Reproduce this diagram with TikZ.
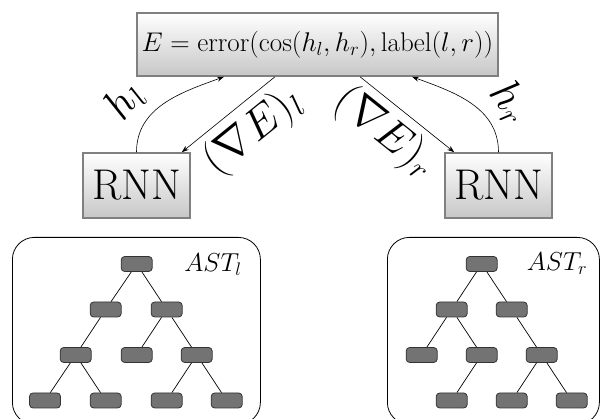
\documentclass[tikz,border=0pt]{standalone}
\usepackage{fix-cm}
\usepackage{fontspec}
\usetikzlibrary{arrows.meta}
\begin{document}
\begin{tikzpicture}[x=1pt,y=1pt,
  gbox/.style={draw=black!50, line width=1.5pt, top color=white, bottom color=black!22, inner sep=0pt},
  tn/.style={draw=black!80, fill=black!55, rounded corners=3.5pt, minimum width=31pt, minimum height=15pt, inner sep=0pt, line width=0.8pt},
  astbox/.style={draw, rounded corners=22pt, line width=0.8pt},
  conn/.style={-{Stealth[length=7pt,width=5pt]}, line width=0.6pt},
  tedge/.style={line width=0.7pt},
  lbl/.style={font=\fontsize{44}{50}\selectfont, inner sep=1pt}
]
\useasboundingbox (0,0) rectangle (600,-419);
\clip (0,0) rectangle (600,-419);
% top box and RNNs
\node[gbox, minimum width=361pt, minimum height=63pt] (E) at (317.5,-44.5)
  {\fontsize{27}{32}\selectfont $E=\mathrm{error}(\cos(h_l,h_r),\mathrm{label}(l,r))$};
\node[gbox, minimum width=107pt, minimum height=65pt] (rl) at (136.5,-185.5) {\fontsize{43}{50}\selectfont RNN};
\node[gbox, minimum width=107pt, minimum height=65pt] (rr) at (498.5,-185.5) {\fontsize{43}{50}\selectfont RNN};
\coordinate (e1) at ([xshift=-93.5pt]E.south);
\coordinate (e2) at ([xshift=-42.5pt]E.south);
\coordinate (e3) at ([xshift=42.5pt]E.south);
\coordinate (e4) at ([xshift=94.5pt]E.south);
\coordinate (rl1) at ([xshift=-9pt]rl.north east);
\coordinate (rr1) at ([xshift=10pt]rr.north west);
\draw[conn] (rl.north) to[out=90,in=200] node[lbl, sloped, above=9pt, pos=0.3] {$h_l$} (e1);
\draw[conn] (e2) -- node[lbl, sloped, below=6pt, pos=0.43] {$(\nabla E)_l$} (rl1);
\draw[conn] (e3) -- node[lbl, sloped, below=5pt, pos=0.45] {$(\nabla E)_r$} (rr1);
\draw[conn] (rr.north) to[out=90,in=-20] node[lbl, sloped, above=8pt, pos=0.3] {$h_r$} (e4);
% AST boxes
\node[astbox, minimum width=248pt, minimum height=187pt, anchor=north west] (astl) at (12,-237) {};
\node[astbox, minimum width=212pt, minimum height=187pt, anchor=north west] (astr) at (387,-237) {};
\node[font=\fontsize{26}{30}\selectfont] (labl) at (213,-265) {$AST_l$};
\node[font=\fontsize{26}{30}\selectfont] (labr) at (557,-264) {$AST_r$};
% left tree
\node[tn] (a1) at (136.7,-264) {};
\node[tn] (a2) at (105.7,-309.5) {};
\node[tn] (a3) at (166.7,-309.5) {};
\node[tn] (a4) at (75.7,-355) {};
\node[tn] (a5) at (136.7,-355) {};
\node[tn] (a6) at (196.7,-355) {};
\node[tn] (a7) at (45,-400.5) {};
\node[tn] (a8) at (105.7,-400.5) {};
\node[tn] (a9) at (166.7,-400.5) {};
\node[tn] (a10) at (226.7,-400.5) {};
\draw[tedge] (a1) -- (a2); \draw[tedge] (a1) -- (a3);
\draw[tedge] (a2) -- (a4);
\draw[tedge] (a3) -- (a5); \draw[tedge] (a3) -- (a6);
\draw[tedge] (a4) -- (a7); \draw[tedge] (a4) -- (a8);
\draw[tedge] (a6) -- (a9); \draw[tedge] (a6) -- (a10);
% right tree
\node[tn] (b1) at (481.7,-264) {};
\node[tn] (b2) at (451.7,-309.5) {};
\node[tn] (b3) at (511.7,-309.5) {};
\node[tn] (b4) at (421.7,-355) {};
\node[tn] (b5) at (481.7,-355) {};
\node[tn] (b6) at (541.7,-355) {};
\node[tn] (b7) at (451.7,-400.5) {};
\node[tn] (b8) at (511.7,-400.5) {};
\node[tn] (b9) at (571.7,-400.5) {};
\draw[tedge] (b1) -- (b2); \draw[tedge] (b1) -- (b3);
\draw[tedge] (b2) -- (b4); \draw[tedge] (b2) -- (b5);
\draw[tedge] (b3) -- (b6);
\draw[tedge] (b5) -- (b7);
\draw[tedge] (b6) -- (b8); \draw[tedge] (b6) -- (b9);
\end{tikzpicture}
\end{document}
